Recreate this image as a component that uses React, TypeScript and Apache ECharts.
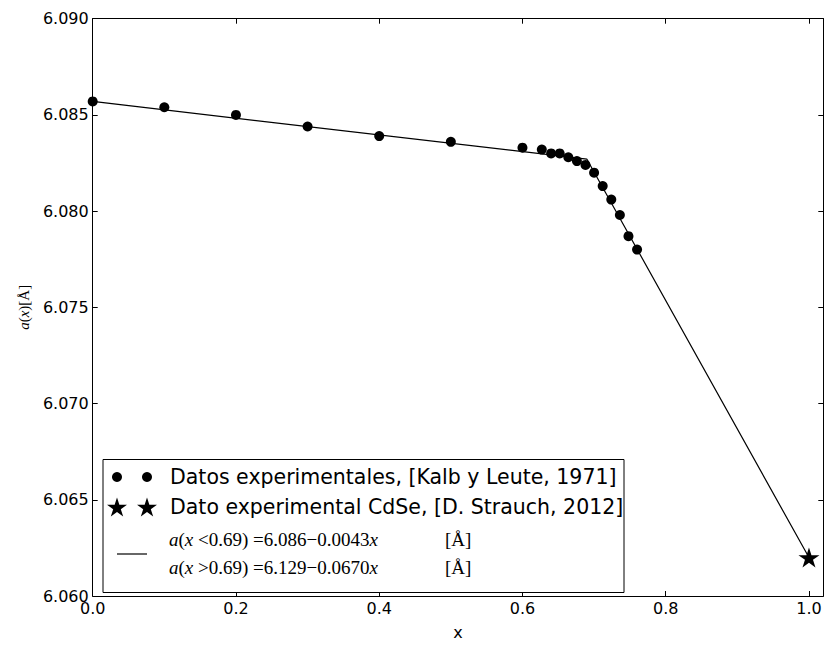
import React, { useEffect, useRef } from "react";
import * as echarts from "echarts";

// Experimental data [Kalb y Leute, 1971]
const expX = [0, 0.1, 0.2, 0.3, 0.4, 0.5, 0.6, 0.627, 0.64, 0.652, 0.664, 0.676, 0.688, 0.7, 0.712, 0.724, 0.736, 0.748, 0.76];
const expY = [6.0857, 6.0854, 6.085, 6.0844, 6.0839, 6.0836, 6.0833, 6.0832, 6.083, 6.083, 6.0828, 6.0826, 6.0824, 6.082, 6.0813, 6.0806, 6.0798, 6.0787, 6.078];

// CdSe experimental point [D. Strauch, 2012]
const cdseX = [1.0];
const cdseY = [6.062];

// Piecewise linear fit (break at x = 0.69)
const fitX = [0, 0.69, 1.0];
const fitY = [6.0857, 6.0827, 6.062];

const yTicks = [6.06, 6.065, 6.07, 6.075, 6.08, 6.085, 6.09];
const xTicks = [0, 0.2, 0.4, 0.6, 0.8, 1.0];

const legendTexts = [
  "Datos experimentales, [Kalb y Leute, 1971]",
  "Dato experimental CdSe, [D. Strauch, 2012]",
];
const fitLabels = [
  { cond: "<0.69", expr: "=6.086\u22120.0043" },
  { cond: ">0.69", expr: "=6.129\u22120.0670" },
];

const STAR_PATH =
  "path://M100,0L122.45,69.1L195.1,69.1L136.3,111.8L158.8,180.9L100,138.2L41.2,180.9L63.7,111.8L4.9,69.1L77.55,69.1Z";

const starUnit = [
  [0, -1], [0.2245, -0.309], [0.951, -0.309], [0.363, 0.118], [0.588, 0.809],
  [0, 0.382], [-0.588, 0.809], [-0.363, 0.118], [-0.951, -0.309], [-0.2245, -0.309],
];
function starPoints(cx: number, cy: number, r: number) {
  return starUnit.map(([a, b]) => [cx + a * r, cy + b * r]);
}

const SANS = "DejaVu Sans";
const SERIF = "Liberation Serif";

export default function App() {
  const ref = useRef<HTMLDivElement>(null);
  useEffect(() => {
    document.body.style.margin = "0";
    if (!ref.current) return;
    const chart = echarts.init(ref.current, undefined, { renderer: "svg" });
    const axisCommon = {
      type: "value" as const,
      axisLine: { show: true, onZero: false, lineStyle: { color: "#000", width: 1 } },
      axisTick: { show: true, inside: true, length: 5, lineStyle: { color: "#000", width: 1 } },
      splitLine: { show: false },
    };
    const xFmt = (v: number) => {
      const hit = xTicks.some((t) => Math.abs(t - v) < 1e-9);
      return hit ? v.toFixed(1) : "";
    };
    const yFmt = (v: number) => {
      const hit = yTicks.some((t) => Math.abs(t - v) < 1e-9);
      return hit ? v.toFixed(3) : "";
    };
    const legendX = 103;
    const legendY = 459.5;
    const mk1 = 117;
    const mk2 = 147;
    const rows = [477, 507, 539, 567];
    const textX = 170;

    const graphic: any[] = [
      {
        type: "rect",
        shape: { x: legendX, y: legendY, width: 521, height: 133 },
        style: { fill: "#fff", stroke: "#000", lineWidth: 1 },
        z: 100,
      },
      { type: "circle", shape: { cx: mk1, cy: rows[0], r: 5 }, style: { fill: "#000" }, z: 101 },
      { type: "circle", shape: { cx: mk2, cy: rows[0], r: 5 }, style: { fill: "#000" }, z: 101 },
      {
        type: "text", x: textX, y: rows[0], z: 101,
        style: { text: legendTexts[0], font: `20.5px '${SANS}'`, fill: "#000", verticalAlign: "middle" },
      },
      { type: "polygon", shape: { points: starPoints(mk1, rows[1] + 1, 10.5) }, style: { fill: "#000" }, z: 101 },
      { type: "polygon", shape: { points: starPoints(mk2, rows[1] + 1, 10.5) }, style: { fill: "#000" }, z: 101 },
      {
        type: "text", x: textX, y: rows[1], z: 101,
        style: { text: legendTexts[1], font: `20.5px '${SANS}'`, fill: "#000", verticalAlign: "middle" },
      },
      {
        type: "line", shape: { x1: mk1, y1: 554, x2: mk2, y2: 554 },
        style: { stroke: "#000", lineWidth: 1.2 }, z: 101,
      },
    ];
    fitLabels.forEach((f, i) => {
      graphic.push({
        type: "text", x: 169, y: rows[2 + i], z: 101,
        style: {
          text: `{i|a}{n|(}{i|x}{n| ${f.cond}) ${f.expr}}{i|x}`,
          verticalAlign: "middle",
          rich: {
            i: { fontFamily: SERIF, fontStyle: "italic", fontSize: 19, fill: "#000" },
            n: { fontFamily: SERIF, fontSize: 19, fill: "#000" },
          },
        },
      });
      graphic.push({
        type: "text", x: 445, y: rows[2 + i], z: 101,
        style: { text: "[\u00C5]", font: `19px '${SERIF}'`, fill: "#000", verticalAlign: "middle" },
      });
    });

    chart.setOption({
      animation: false,
      backgroundColor: "#fff",
      grid: { left: 92.7, right: 3.7, top: 18.7, bottom: 47.7 },
      xAxis: [
        {
          ...axisCommon,
          position: "bottom",
          min: 0,
          max: 1.02,
          interval: 0.2,
          name: "x",
          nameLocation: "middle",
          nameGap: 28,
          nameTextStyle: { fontFamily: SANS, fontSize: 16, color: "#000" },
          axisLabel: {
            formatter: xFmt, fontFamily: SANS, fontSize: 16, color: "#000",
            margin: 6, lineHeight: 12, showMaxLabel: false,
          },
        },
        {
          ...axisCommon,
          position: "top",
          min: 0,
          max: 1.02,
          interval: 0.2,
          axisLabel: { show: false },
        },
      ],
      yAxis: [
        {
          ...axisCommon,
          position: "left",
          min: 6.06,
          max: 6.09,
          interval: 0.005,
          name: "{i|a}{n|(}{i|x}{n|)[\u00C5]}",
          nameLocation: "middle",
          nameGap: 58,
          nameTextStyle: {
            rich: {
              i: { fontFamily: SERIF, fontStyle: "italic", fontSize: 15, color: "#000" },
              n: { fontFamily: SERIF, fontSize: 15, color: "#000" },
            },
          },
          axisLabel: { formatter: yFmt, fontFamily: SANS, fontSize: 16, color: "#000", margin: 4, lineHeight: 11 },
        },
        {
          ...axisCommon,
          position: "right",
          min: 6.06,
          max: 6.09,
          interval: 0.005,
          axisLabel: { show: false },
        },
      ],
      series: [
        {
          type: "line",
          data: fitX.map((x, i) => [x, fitY[i]]),
          symbol: "none",
          lineStyle: { color: "#000", width: 1.2 },
          z: 2,
        },
        {
          type: "scatter",
          data: expX.map((x, i) => [x, expY[i]]),
          symbol: "circle",
          symbolSize: 10,
          itemStyle: { color: "#000", opacity: 1 },
          z: 3,
        },
        {
          type: "scatter",
          data: cdseX.map((x, i) => [x, cdseY[i]]),
          symbol: STAR_PATH,
          symbolSize: [21, 20],
          itemStyle: { color: "#000", opacity: 1 },
          z: 4,
        },
      ],
      graphic,
    });
    return () => chart.dispose();
  }, []);
  return <div ref={ref} style={{ width: 827, height: 645 }} />;
}
